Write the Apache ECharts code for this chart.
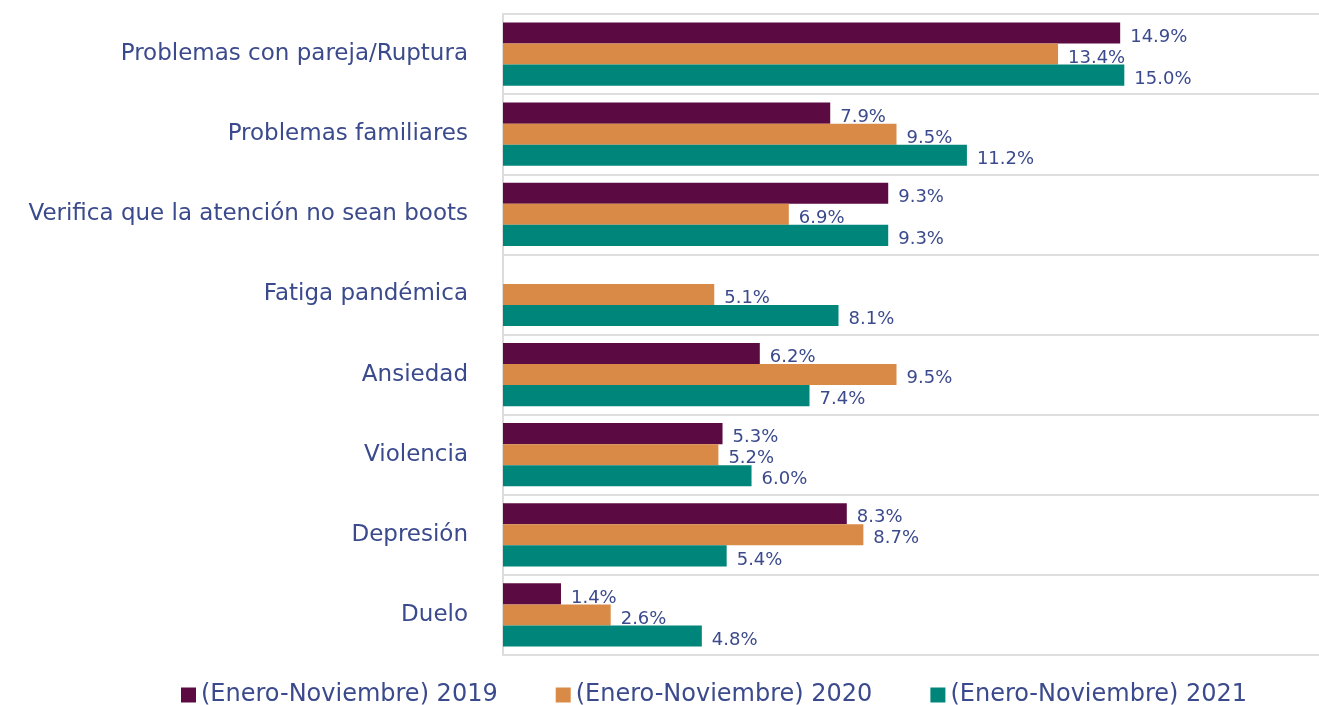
<!DOCTYPE html>
<html>
<head>
<meta charset="utf-8">
<script src="https://cdn.jsdelivr.net/npm/echarts@6/dist/echarts.min.js"></script>
<style>
  html, body { margin: 0; padding: 0; background: #fff; }
  #chart { width: 1319px; height: 705px; }
</style>
</head>
<body>
<div id="chart"></div>
<script>
// categorías (de arriba a abajo)
const categories = [
  'Problemas con pareja/Ruptura',
  'Problemas familiares',
  'Verifica que la atención no sean boots',
  'Fatiga pandémica',
  'Ansiedad',
  'Violencia',
  'Depresión',
  'Duelo'
]

const seriesNames = [
  '(Enero-Noviembre) 2019',
  '(Enero-Noviembre) 2020',
  '(Enero-Noviembre) 2021'
]

const values2019 = [14.9, 7.9, 9.3, null, 6.2, 5.3, 8.3, 1.4]
const values2020 = [13.4, 9.5, 6.9, 5.1, 9.5, 5.2, 8.7, 2.6]
const values2021 = [15.0, 11.2, 9.3, 8.1, 7.4, 6.0, 5.4, 4.8]

const colors = ['#5c0a42', '#d98a46', '#00857b']
const textColor = '#3b4a8c'
const fontFamily = '"DejaVu Sans", sans-serif'

const chart = echarts.init(document.getElementById('chart'))

const makeSeries = (name, data, color) => ({
  name,
  type: 'bar',
  data,
  barGap: '0%',
  barCategoryGap: '21%',
  itemStyle: { color },
  label: {
    show: true,
    position: 'right',
    distance: 10,
    offset: [0, 4],
    color: textColor,
    fontSize: 18,
    fontFamily,
    formatter: (p) => p.value == null ? '' : p.value.toFixed(1) + '%'
  }
})

chart.setOption({
  animation: false,
  grid: {
    left: 503,
    right: 0,
    top: 14,
    bottom: 50
  },
  xAxis: {
    type: 'value',
    min: 0,
    max: 19.7,
    axisLabel: { show: false },
    axisLine: { show: false },
    axisTick: { show: false },
    splitLine: { show: false }
  },
  yAxis: {
    type: 'category',
    data: categories,
    inverse: true,
    axisTick: { show: false },
    axisLine: { show: true, lineStyle: { color: '#dcdcdc', width: 2 } },
    splitLine: { show: true, lineStyle: { color: '#dedede', width: 2 } },
    axisLabel: {
      margin: 35,
      color: textColor,
      fontSize: 23,
      fontFamily
    }
  },
  legend: {
    top: 678,
    left: 176,
    itemWidth: 15,
    itemHeight: 15,
    itemGap: 58,
    icon: 'rect',
    textStyle: { color: textColor, fontSize: 24, fontFamily },
    data: seriesNames
  },
  series: [
    makeSeries(seriesNames[0], values2019, colors[0]),
    makeSeries(seriesNames[1], values2020, colors[1]),
    makeSeries(seriesNames[2], values2021, colors[2])
  ]
})
</script>
</body>
</html>
